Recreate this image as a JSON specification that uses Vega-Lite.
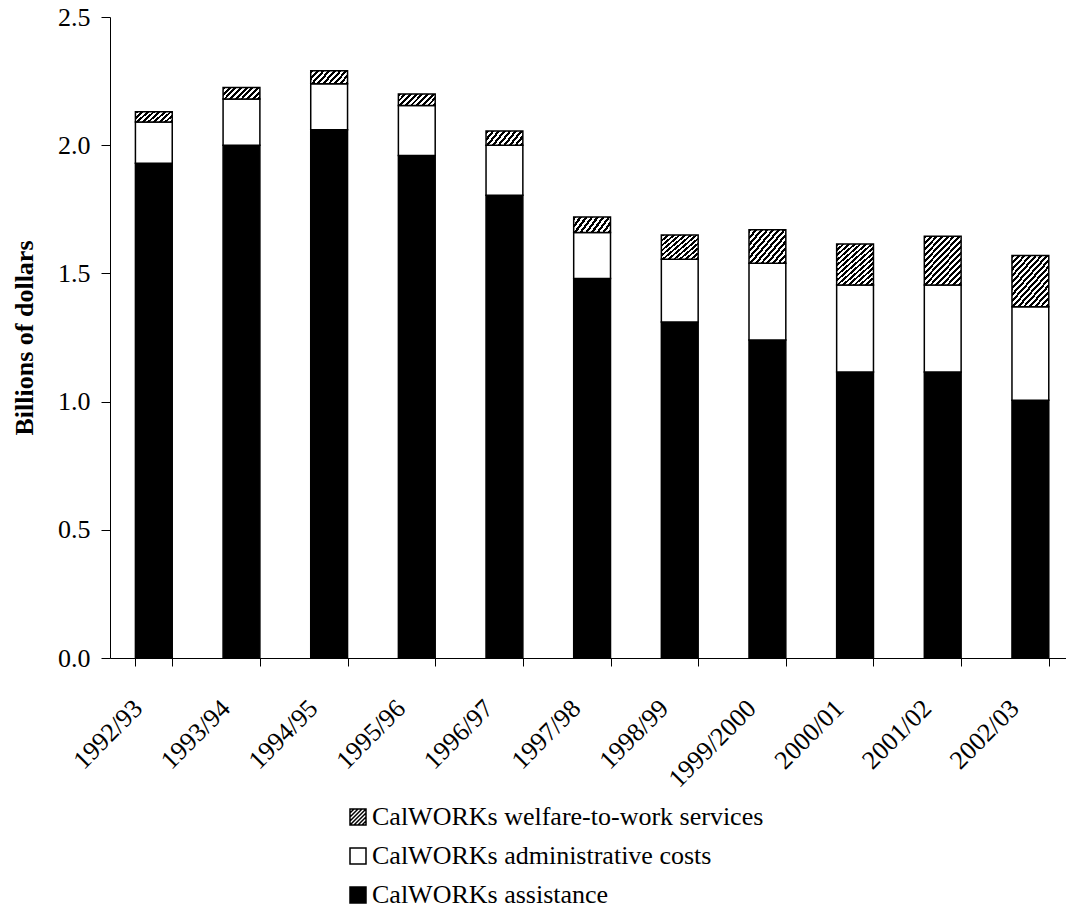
{
  "$schema": "https://vega.github.io/schema/vega-lite/v6.json",
  "autosize": "none",
  "width": 956,
  "height": 641,
  "padding": {"left": 110, "top": 17, "right": 0, "bottom": 251},
  "background": "white",
  "config": {"view": {"stroke": null}, "font": "Liberation Serif"},
  "data": {
    "values": [
      {"year": "1992/93", "series": "CalWORKs assistance", "value": 1.93},
      {"year": "1992/93", "series": "CalWORKs administrative costs", "value": 0.16},
      {"year": "1992/93", "series": "CalWORKs welfare-to-work services", "value": 0.04},
      {"year": "1993/94", "series": "CalWORKs assistance", "value": 2.0},
      {"year": "1993/94", "series": "CalWORKs administrative costs", "value": 0.18},
      {"year": "1993/94", "series": "CalWORKs welfare-to-work services", "value": 0.045},
      {"year": "1994/95", "series": "CalWORKs assistance", "value": 2.06},
      {"year": "1994/95", "series": "CalWORKs administrative costs", "value": 0.18},
      {"year": "1994/95", "series": "CalWORKs welfare-to-work services", "value": 0.05},
      {"year": "1995/96", "series": "CalWORKs assistance", "value": 1.96},
      {"year": "1995/96", "series": "CalWORKs administrative costs", "value": 0.195},
      {"year": "1995/96", "series": "CalWORKs welfare-to-work services", "value": 0.045},
      {"year": "1996/97", "series": "CalWORKs assistance", "value": 1.805},
      {"year": "1996/97", "series": "CalWORKs administrative costs", "value": 0.195},
      {"year": "1996/97", "series": "CalWORKs welfare-to-work services", "value": 0.055},
      {"year": "1997/98", "series": "CalWORKs assistance", "value": 1.48},
      {"year": "1997/98", "series": "CalWORKs administrative costs", "value": 0.18},
      {"year": "1997/98", "series": "CalWORKs welfare-to-work services", "value": 0.06},
      {"year": "1998/99", "series": "CalWORKs assistance", "value": 1.31},
      {"year": "1998/99", "series": "CalWORKs administrative costs", "value": 0.245},
      {"year": "1998/99", "series": "CalWORKs welfare-to-work services", "value": 0.095},
      {"year": "1999/2000", "series": "CalWORKs assistance", "value": 1.24},
      {"year": "1999/2000", "series": "CalWORKs administrative costs", "value": 0.30},
      {"year": "1999/2000", "series": "CalWORKs welfare-to-work services", "value": 0.13},
      {"year": "2000/01", "series": "CalWORKs assistance", "value": 1.115},
      {"year": "2000/01", "series": "CalWORKs administrative costs", "value": 0.34},
      {"year": "2000/01", "series": "CalWORKs welfare-to-work services", "value": 0.16},
      {"year": "2001/02", "series": "CalWORKs assistance", "value": 1.115},
      {"year": "2001/02", "series": "CalWORKs administrative costs", "value": 0.34},
      {"year": "2001/02", "series": "CalWORKs welfare-to-work services", "value": 0.19},
      {"year": "2002/03", "series": "CalWORKs assistance", "value": 1.005},
      {"year": "2002/03", "series": "CalWORKs administrative costs", "value": 0.365},
      {"year": "2002/03", "series": "CalWORKs welfare-to-work services", "value": 0.2}
    ]
  },
  "transform": [
    {"calculate": "indexof(['CalWORKs assistance','CalWORKs administrative costs','CalWORKs welfare-to-work services'], datum.series)", "as": "ord"}
  ],
  "mark": {"type": "bar", "stroke": "#000000", "strokeWidth": 1.5},
  "encoding": {
    "x": {
      "field": "year", "type": "ordinal", "sort": null,
      "scale": {"type": "band", "range": [0, 964.2], "paddingInner": 0.58, "paddingOuter": 0.29},
      "axis": {"title": null, "labelAngle": -45, "labelAlign": "right", "labelBaseline": "middle", "labelOffset": -16, "labelPadding": 38, "tickBand": "extent", "tickSize": 8, "tickColor": "#000000", "domainColor": "#000000", "labelFont": "Liberation Serif", "labelFontSize": 26, "labelColor": "#000000", "labelLimit": 0, "labelOverlap": false}
    },
    "y": {
      "field": "value", "type": "quantitative", "stack": "zero",
      "scale": {"domain": [0, 2.5], "nice": false},
      "axis": {"title": "Billions of dollars", "titleFont": "Liberation Serif", "titleFontSize": 26, "titleFontWeight": "bold", "titleColor": "#000000", "titlePadding": 20, "values": [0, 0.5, 1, 1.5, 2, 2.5], "format": ".1f", "labelFont": "Liberation Serif", "labelFontSize": 26, "labelColor": "#000000", "labelPadding": 11, "tickSize": 9, "tickColor": "#000000", "domainColor": "#000000", "grid": false}
    },
    "order": {"field": "ord", "type": "quantitative", "sort": "ascending"},
    "fill": {
      "field": "series", "type": "nominal",
      "scale": {"domain": ["CalWORKs welfare-to-work services", "CalWORKs administrative costs", "CalWORKs assistance"], "range": ["#ffffff", "#ffffff", "#000000"]},
      "condition": [
        {"test": "datum.series === 'CalWORKs welfare-to-work services' && datum.value < 0.07", "value": {"gradient": "linear", "x1": 0, "y1": 0, "x2": 2.245, "y2": 0.696, "stops": [{"offset":0,"color":"#000"},{"offset":0.03125,"color":"#000"},{"offset":0.03125,"color":"#fff"},{"offset":0.0625,"color":"#fff"},{"offset":0.0625,"color":"#000"},{"offset":0.09375,"color":"#000"},{"offset":0.09375,"color":"#fff"},{"offset":0.125,"color":"#fff"},{"offset":0.125,"color":"#000"},{"offset":0.15625,"color":"#000"},{"offset":0.15625,"color":"#fff"},{"offset":0.1875,"color":"#fff"},{"offset":0.1875,"color":"#000"},{"offset":0.21875,"color":"#000"},{"offset":0.21875,"color":"#fff"},{"offset":0.25,"color":"#fff"},{"offset":0.25,"color":"#000"},{"offset":0.28125,"color":"#000"},{"offset":0.28125,"color":"#fff"},{"offset":0.3125,"color":"#fff"},{"offset":0.3125,"color":"#000"},{"offset":0.34375,"color":"#000"},{"offset":0.34375,"color":"#fff"},{"offset":0.375,"color":"#fff"},{"offset":0.375,"color":"#000"},{"offset":0.40625,"color":"#000"},{"offset":0.40625,"color":"#fff"},{"offset":0.4375,"color":"#fff"},{"offset":0.4375,"color":"#000"},{"offset":0.46875,"color":"#000"},{"offset":0.46875,"color":"#fff"},{"offset":0.5,"color":"#fff"},{"offset":0.5,"color":"#000"},{"offset":0.53125,"color":"#000"},{"offset":0.53125,"color":"#fff"},{"offset":0.5625,"color":"#fff"},{"offset":0.5625,"color":"#000"},{"offset":0.59375,"color":"#000"},{"offset":0.59375,"color":"#fff"},{"offset":0.625,"color":"#fff"},{"offset":0.625,"color":"#000"},{"offset":0.65625,"color":"#000"},{"offset":0.65625,"color":"#fff"},{"offset":0.6875,"color":"#fff"},{"offset":0.6875,"color":"#000"},{"offset":0.71875,"color":"#000"},{"offset":0.71875,"color":"#fff"},{"offset":0.75,"color":"#fff"},{"offset":0.75,"color":"#000"},{"offset":0.78125,"color":"#000"},{"offset":0.78125,"color":"#fff"},{"offset":0.8125,"color":"#fff"},{"offset":0.8125,"color":"#000"},{"offset":0.84375,"color":"#000"},{"offset":0.84375,"color":"#fff"},{"offset":0.875,"color":"#fff"},{"offset":0.875,"color":"#000"},{"offset":0.90625,"color":"#000"},{"offset":0.90625,"color":"#fff"},{"offset":0.9375,"color":"#fff"},{"offset":0.9375,"color":"#000"},{"offset":0.96875,"color":"#000"},{"offset":0.96875,"color":"#fff"},{"offset":1,"color":"#fff"}]}},
        {"test": "datum.series === 'CalWORKs welfare-to-work services' && datum.value < 0.14", "value": {"gradient": "linear", "x1": 0, "y1": 0, "x2": 1.544, "y2": 1.189, "stops": [{"offset":0,"color":"#000"},{"offset":0.03125,"color":"#000"},{"offset":0.03125,"color":"#fff"},{"offset":0.0625,"color":"#fff"},{"offset":0.0625,"color":"#000"},{"offset":0.09375,"color":"#000"},{"offset":0.09375,"color":"#fff"},{"offset":0.125,"color":"#fff"},{"offset":0.125,"color":"#000"},{"offset":0.15625,"color":"#000"},{"offset":0.15625,"color":"#fff"},{"offset":0.1875,"color":"#fff"},{"offset":0.1875,"color":"#000"},{"offset":0.21875,"color":"#000"},{"offset":0.21875,"color":"#fff"},{"offset":0.25,"color":"#fff"},{"offset":0.25,"color":"#000"},{"offset":0.28125,"color":"#000"},{"offset":0.28125,"color":"#fff"},{"offset":0.3125,"color":"#fff"},{"offset":0.3125,"color":"#000"},{"offset":0.34375,"color":"#000"},{"offset":0.34375,"color":"#fff"},{"offset":0.375,"color":"#fff"},{"offset":0.375,"color":"#000"},{"offset":0.40625,"color":"#000"},{"offset":0.40625,"color":"#fff"},{"offset":0.4375,"color":"#fff"},{"offset":0.4375,"color":"#000"},{"offset":0.46875,"color":"#000"},{"offset":0.46875,"color":"#fff"},{"offset":0.5,"color":"#fff"},{"offset":0.5,"color":"#000"},{"offset":0.53125,"color":"#000"},{"offset":0.53125,"color":"#fff"},{"offset":0.5625,"color":"#fff"},{"offset":0.5625,"color":"#000"},{"offset":0.59375,"color":"#000"},{"offset":0.59375,"color":"#fff"},{"offset":0.625,"color":"#fff"},{"offset":0.625,"color":"#000"},{"offset":0.65625,"color":"#000"},{"offset":0.65625,"color":"#fff"},{"offset":0.6875,"color":"#fff"},{"offset":0.6875,"color":"#000"},{"offset":0.71875,"color":"#000"},{"offset":0.71875,"color":"#fff"},{"offset":0.75,"color":"#fff"},{"offset":0.75,"color":"#000"},{"offset":0.78125,"color":"#000"},{"offset":0.78125,"color":"#fff"},{"offset":0.8125,"color":"#fff"},{"offset":0.8125,"color":"#000"},{"offset":0.84375,"color":"#000"},{"offset":0.84375,"color":"#fff"},{"offset":0.875,"color":"#fff"},{"offset":0.875,"color":"#000"},{"offset":0.90625,"color":"#000"},{"offset":0.90625,"color":"#fff"},{"offset":0.9375,"color":"#fff"},{"offset":0.9375,"color":"#000"},{"offset":0.96875,"color":"#000"},{"offset":0.96875,"color":"#fff"},{"offset":1,"color":"#fff"}]}},
        {"test": "datum.series === 'CalWORKs welfare-to-work services'", "value": {"gradient": "linear", "x1": 0, "y1": 0, "x2": 0.96, "y2": 1.2, "stops": [{"offset":0,"color":"#000"},{"offset":0.03125,"color":"#000"},{"offset":0.03125,"color":"#fff"},{"offset":0.0625,"color":"#fff"},{"offset":0.0625,"color":"#000"},{"offset":0.09375,"color":"#000"},{"offset":0.09375,"color":"#fff"},{"offset":0.125,"color":"#fff"},{"offset":0.125,"color":"#000"},{"offset":0.15625,"color":"#000"},{"offset":0.15625,"color":"#fff"},{"offset":0.1875,"color":"#fff"},{"offset":0.1875,"color":"#000"},{"offset":0.21875,"color":"#000"},{"offset":0.21875,"color":"#fff"},{"offset":0.25,"color":"#fff"},{"offset":0.25,"color":"#000"},{"offset":0.28125,"color":"#000"},{"offset":0.28125,"color":"#fff"},{"offset":0.3125,"color":"#fff"},{"offset":0.3125,"color":"#000"},{"offset":0.34375,"color":"#000"},{"offset":0.34375,"color":"#fff"},{"offset":0.375,"color":"#fff"},{"offset":0.375,"color":"#000"},{"offset":0.40625,"color":"#000"},{"offset":0.40625,"color":"#fff"},{"offset":0.4375,"color":"#fff"},{"offset":0.4375,"color":"#000"},{"offset":0.46875,"color":"#000"},{"offset":0.46875,"color":"#fff"},{"offset":0.5,"color":"#fff"},{"offset":0.5,"color":"#000"},{"offset":0.53125,"color":"#000"},{"offset":0.53125,"color":"#fff"},{"offset":0.5625,"color":"#fff"},{"offset":0.5625,"color":"#000"},{"offset":0.59375,"color":"#000"},{"offset":0.59375,"color":"#fff"},{"offset":0.625,"color":"#fff"},{"offset":0.625,"color":"#000"},{"offset":0.65625,"color":"#000"},{"offset":0.65625,"color":"#fff"},{"offset":0.6875,"color":"#fff"},{"offset":0.6875,"color":"#000"},{"offset":0.71875,"color":"#000"},{"offset":0.71875,"color":"#fff"},{"offset":0.75,"color":"#fff"},{"offset":0.75,"color":"#000"},{"offset":0.78125,"color":"#000"},{"offset":0.78125,"color":"#fff"},{"offset":0.8125,"color":"#fff"},{"offset":0.8125,"color":"#000"},{"offset":0.84375,"color":"#000"},{"offset":0.84375,"color":"#fff"},{"offset":0.875,"color":"#fff"},{"offset":0.875,"color":"#000"},{"offset":0.90625,"color":"#000"},{"offset":0.90625,"color":"#fff"},{"offset":0.9375,"color":"#fff"},{"offset":0.9375,"color":"#000"},{"offset":0.96875,"color":"#000"},{"offset":0.96875,"color":"#fff"},{"offset":1,"color":"#fff"}]}}
      ],
      "legend": {
        "title": null, "orient": "none", "legendX": 235, "legendY": 787, "direction": "vertical",
        "symbolType": "square", "symbolSize": 256, "symbolStrokeColor": "#000000", "symbolStrokeWidth": 1.5, "symbolOpacity": 1,
        "labelFont": "Liberation Serif", "labelFontSize": 26, "labelColor": "#000000", "labelOffset": 1, "labelLimit": 0,
        "rowPadding": 13, "padding": 0,
        "encode": {"symbols": {"update": {
          "shape": [
            {"test": "datum.value === 'CalWORKs welfare-to-work services'", "value": "M-1,-1H1V1H-1Z M-1,-0.5L-0.5,-1 M-1,0L0,-1 M-1,0.5L0.5,-1 M-1,1L1,-1 M-0.5,1L1,-0.5 M0,1L1,0 M0.5,1L1,0.5"},
            {"value": "square"}
          ],
          "stroke": {"value": "#000000"},
          "strokeWidth": {"value": 1.5},
          "opacity": {"value": 1}
        }}}
      }
    }
  }
}
